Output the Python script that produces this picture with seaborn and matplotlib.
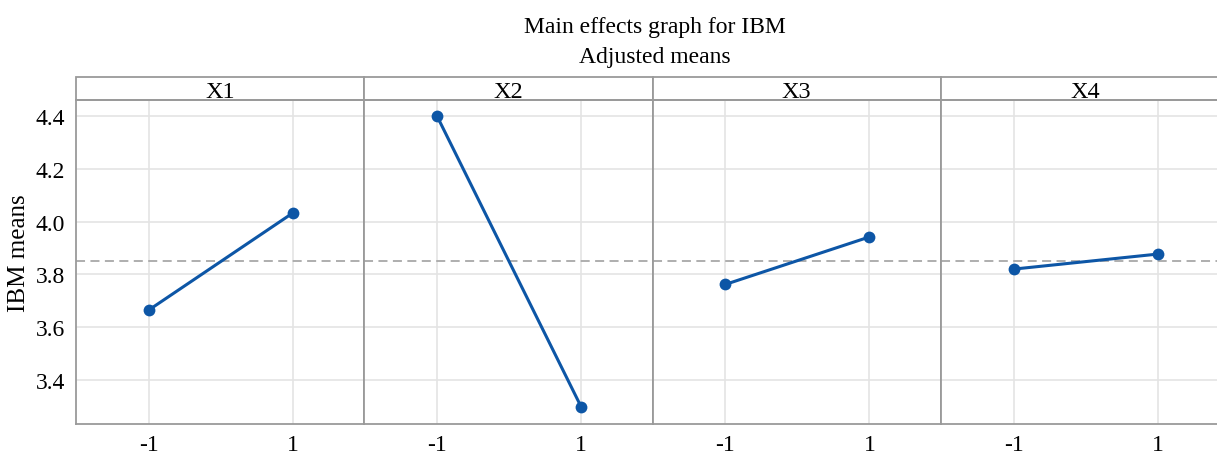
import pandas as pd
import numpy as np
import matplotlib
matplotlib.use("Agg")
import matplotlib.pyplot as plt
import seaborn as sns
from matplotlib.patches import Rectangle

# values
factors = ["X1", "X2", "X3", "X4"]
levels = [-1, 1]
means_x1 = [3.665, 4.033]
means_x2 = [4.400, 3.298]
means_x3 = [3.762, 3.942]
means_x4 = [3.820, 3.877]
grand_mean = 3.849

df = pd.DataFrame({
    "factor": np.repeat(factors, len(levels)),
    "level": levels * len(factors),
    "mean": means_x1 + means_x2 + means_x3 + means_x4,
})

sns.set_style("white")
plt.rcParams["font.family"] = ["Liberation Serif", "DejaVu Serif"]
plt.rcParams["text.color"] = "black"
plt.rcParams["axes.labelcolor"] = "black"

line_col = "#0d56a6"
frame_col = "#9a9a9a"
grid_col = "#e4e4e4"

g = sns.relplot(
    data=df, x="level", y="mean", col="factor", kind="line",
    marker="o", markersize=8.5, markeredgewidth=0, color=line_col,
    linewidth=2.2, height=4, aspect=1, facet_kws={"sharey": True, "sharex": True},
)
fig = g.figure
fig.set_size_inches(12.17, 4.56)
W, H = 1217, 456
fig.subplots_adjust(left=76 / W, right=1229 / W, top=1 - 101 / H,
                    bottom=1 - 425 / H, wspace=0)

strip_h = 23 / 324
for ax, name in zip(g.axes.flat, factors):
    ax.set_xlim(-2.01, 1.99)
    ax.set_ylim(3.233, 4.461)
    ax.set_xticks(levels)
    ax.set_xticklabels(["-1", "1"])
    ax.set_yticks([3.4, 3.6, 3.8, 4.0, 4.2, 4.4])
    ax.grid(True, color=grid_col, linewidth=1.2)
    ax.set_axisbelow(True)
    ax.axhline(grand_mean, color="#a8a8a8", linestyle=(0, (5, 3)),
               linewidth=1.3, zorder=1)
    for s in ["left", "bottom", "top", "right"]:
        ax.spines[s].set_visible(True)
        ax.spines[s].set_color(frame_col)
        ax.spines[s].set_linewidth(1.3)
    ax.tick_params(axis="both", direction="out", length=5, width=1,
                   color=frame_col, labelsize=17, labelcolor="black", pad=3)
    ax.tick_params(axis="x", pad=2)
    ax.set_title("")
    ax.set_xlabel("")
    ax.set_ylabel("")
    box = Rectangle((0, 1), 1, strip_h, transform=ax.transAxes,
                    facecolor="white", edgecolor=frame_col, linewidth=1.3,
                    clip_on=False)
    ax.add_patch(box)
    ax.text(0.5, 1 + strip_h / 2 - 0.008, name, transform=ax.transAxes,
            ha="center", va="center", fontsize=17.5)

for ax in g.axes.flat[1:]:
    ax.tick_params(axis="y", left=False, labelleft=False)

ax0 = g.axes.flat[0]
ax0.set_ylabel("IBM means", fontsize=18)
ax0.yaxis.set_label_coords(-0.16, 0.53)

fig.text(655 / W, 1 - 28 / H, "Main effects graph for IBM", ha="center",
         va="center", fontsize=17)
fig.text(655 / W, 1 - 57 / H, "Adjusted means", ha="center",
         va="center", fontsize=17)

fig.savefig("out.png", dpi=100)
